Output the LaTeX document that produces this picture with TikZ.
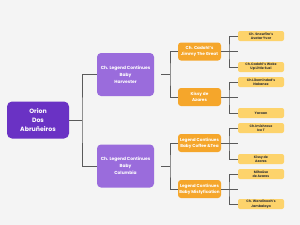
\documentclass[tikz,border=0pt]{standalone}
\usepackage{fontspec}
\setmainfont{Poppins}
\usepackage{tikz}

\definecolor{bggray}{HTML}{F4F4F4}
\definecolor{rootpurple}{HTML}{6A32C4}
\definecolor{litepurple}{HTML}{9A6CDC}
\definecolor{pedorange}{HTML}{F5A62B}
\definecolor{leafyellow}{HTML}{FDD36B}
\definecolor{linkgray}{HTML}{5A5A5A}

\begin{document}
\begin{tikzpicture}[x=1pt, y=-1pt,
  every node/.style={align=center, inner sep=0pt},
  rootbox/.style={fill=rootpurple, text=white, rounded corners=5pt, minimum width=62pt, minimum height=37pt, font=\fontsize{6.2}{9}\selectfont\bfseries},
  sirebox/.style={fill=litepurple, text=white, rounded corners=4pt, minimum width=57pt, minimum height=43pt, font=\fontsize{4.4}{7}\selectfont\bfseries},
  gsbox/.style={fill=pedorange, text=white, rounded corners=3pt, minimum width=43pt, minimum height=18pt, font=\fontsize{4.2}{6}\selectfont\bfseries},
  ggsbox/.style={fill=leafyellow, text=black!80, rounded corners=2pt, minimum width=46pt, minimum height=10pt, font=\fontsize{3.3}{4.3}\selectfont\bfseries},
  link/.style={draw=linkgray, line width=0.8pt}]

  % Background
  \fill[bggray] (0,0) rectangle (300,225);
  \useasboundingbox (0,0) rectangle (300,225);

  % Root
  \node[rootbox] (orion) at (38,120) {Orion\\Dos\\Abruñeiros};

  % Parents
  \node[sirebox] (harv) at (125.5,74.5) {Ch. Legend Continues\\Baby\\Harvester};
  \node[sirebox] (colo) at (125.5,166) {Ch. Legend Continues\\Baby\\Columbia};

  % Grandparents
  \node[gsbox] (jimmy) at (199.5,51.5) {Ch. Cadohl's\\Jimmy The Great};
  \node[gsbox] (kissyA) at (199.5,97) {Kissy de\\Azares};
  \node[gsbox] (coffee) at (199.5,143) {Legend Continues\\Baby Coffee \&Tea};
  \node[gsbox] (misty) at (199.5,189) {Legend Continues\\Baby Mistyfication};

  % Great-grandparents
  \node[ggsbox] (snow) at (261,36) {Ch. Snowfire's\\Avatar Yvar};
  \node[ggsbox] (suzi) at (261,67) {Ch.Cadohl's Wake\\Up Little Suzi};
  \node[ggsbox] (nakanee) at (261,82) {Ch.Likeminded's\\Nakanee};
  \node[ggsbox] (yaraan) at (261,113) {Yaraan};
  \node[ggsbox] (icet) at (261,128) {Ch.Imishrose\\Ice T};
  \node[ggsbox] (kissyB) at (261,159) {Kissy de\\Azares};
  \node[ggsbox] (mihouse) at (261,174) {Mihoûse\\de Azares};
  \node[ggsbox] (jamba) at (261,204) {Ch. Wendinoah's\\Jambalaya};

  % Branch points
  \coordinate (j0) at (82,120);
  \coordinate (j1) at (170,74.5);
  \coordinate (j2) at (170,166);
  \coordinate (j3) at (229,51.5);
  \coordinate (j4) at (229,97);
  \coordinate (j5) at (229,143);
  \coordinate (j6) at (229,189);

  % Root to parents
  \draw[link] (orion.east) -- (j0);
  \draw[link] (harv.west) -| (j0) |- (colo.west);

  % Parents to grandparents
  \draw[link] ([xshift=7pt]harv.east) -- (j1);
  \draw[link] (jimmy.west) -| (j1) |- (kissyA.west);
  \draw[link] ([xshift=7pt]colo.east) -- (j2);
  \draw[link] (coffee.west) -| (j2) |- (misty.west);

  % Grandparents to great-grandparents
  \draw[link] (jimmy.east) -- (jimmy.east -| snow.west);
  \draw[link] (snow.west) -| (j3) |- (suzi.west);
  \draw[link] (kissyA.east) -- (kissyA.east -| nakanee.west);
  \draw[link] (nakanee.west) -| (j4) |- (yaraan.west);
  \draw[link] (coffee.east) -- (coffee.east -| icet.west);
  \draw[link] (icet.west) -| (j5) |- (kissyB.west);
  \draw[link] (misty.east) -- (misty.east -| mihouse.west);
  \draw[link] (mihouse.west) -| (j6) |- (jamba.west);
\end{tikzpicture}
\end{document}
